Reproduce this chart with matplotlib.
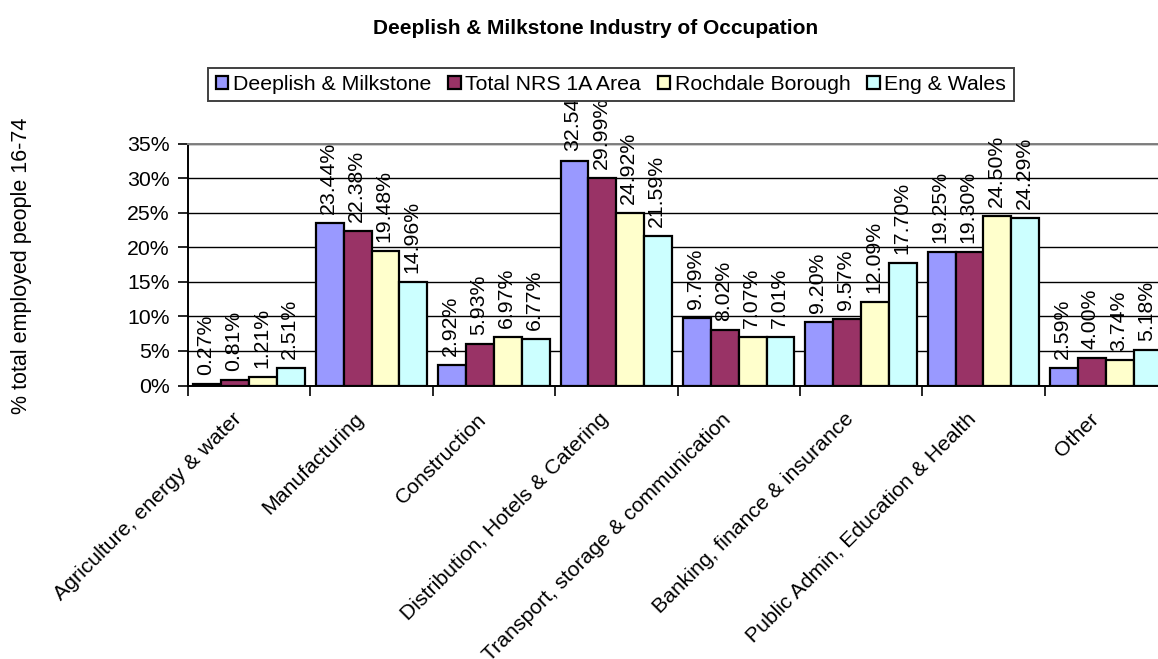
import matplotlib
matplotlib.use("Agg")
import matplotlib.pyplot as plt
import matplotlib.transforms as mtransforms
import numpy as np

plt.rcParams['font.family'] = ['Liberation Sans', 'DejaVu Sans']

# data
categories = ["Agriculture, energy & water", "Manufacturing", "Construction",
              "Distribution, Hotels & Catering", "Transport, storage & communication",
              "Banking, finance & insurance", "Public Admin, Education & Health", "Other"]
series_names = ["Deeplish & Milkstone", "Total NRS 1A Area", "Rochdale Borough", "Eng & Wales"]
deeplish = [0.27, 23.44, 2.92, 32.54, 9.79, 9.20, 19.25, 2.59]
nrs_area = [0.81, 22.38, 5.93, 29.99, 8.02, 9.57, 19.30, 4.00]
rochdale = [1.21, 19.48, 6.97, 24.92, 7.07, 12.09, 24.50, 3.74]
eng_wales = [2.51, 14.96, 6.77, 21.59, 7.01, 17.70, 24.29, 5.18]
y_ticks = [0, 5, 10, 15, 20, 25, 30, 35]

colors = ['#9999FF', '#993366', '#FFFFCC', '#CCFFFF']
all_series = [deeplish, nrs_area, rochdale, eng_wales]
fs = 15.3

W, H = 1158, 659
fig = plt.figure(figsize=(W / 100, H / 100), dpi=100)
# plot area runs past the right edge, like the original
ax = fig.add_axes([188 / W, 1 - 385.5 / H, 979 / W, 242 / H])

x = np.arange(len(categories)) + 0.5
bw = 0.228
handles = []
for k, (vals, col) in enumerate(zip(all_series, colors)):
    pos = x + (k - 1.5) * bw
    b = ax.bar(pos, vals, width=bw, color=col, edgecolor='black', linewidth=1.6, zorder=3)
    handles.append(b)
    for px, v in zip(pos, vals):
        ax.annotate(f"{v:.2f}%", (px, v), xytext=(-1, 6.5), textcoords='offset points',
                    rotation=90, ha='center', va='bottom', fontsize=fs,
                    clip_on=False, zorder=4)

ax.set_xlim(0, len(categories))
ax.set_ylim(0, 35)
ax.set_yticks(y_ticks)
ax.set_yticklabels([f"{t}%" for t in y_ticks], fontsize=fs)
ax.yaxis.grid(True, color='black', linewidth=1.0, zorder=0)
ax.set_axisbelow(True)

# ticks at category boundaries, names drawn below each category centre
ax.set_xticks(np.arange(len(categories) + 1))
ax.set_xticklabels([])
ax.tick_params(axis='x', which='major', length=7, width=1.2, direction='out')
ax.tick_params(axis='y', length=7, width=1.2, direction='out', pad=6)
lab_tr = ax.get_xaxis_transform() + mtransforms.ScaledTranslation(-17 / 100, -24 / 100, fig.dpi_scale_trans)
for xc, name in zip(x, categories):
    ax.text(xc, 0, name, transform=lab_tr, rotation=45, ha='right', va='top',
            rotation_mode='anchor', fontsize=fs, clip_on=False)

ax.spines['left'].set_linewidth(1.4)
ax.spines['bottom'].set_linewidth(1.4)
ax.spines['top'].set_color('#808080')
ax.spines['top'].set_linewidth(1.4)
ax.spines['right'].set_visible(False)

fig.text(596 / W, 1 - 28 / H, "Deeplish & Milkstone Industry of Occupation",
         ha='center', va='center', fontsize=15, fontweight='bold')
fig.text(22 / W, 1 - 266 / H, "% total employed people 16-74", rotation=90,
         ha='center', va='center', fontsize=15.5)

leg = fig.legend(handles, series_names, loc='center', bbox_to_anchor=(611 / W, 1 - 84.5 / H),
                 ncol=4, fontsize=fs, frameon=True, fancybox=False, edgecolor='#404040',
                 framealpha=1, facecolor='white',
                 handlelength=0.6, handleheight=0.6, handletextpad=0.2, columnspacing=0.8,
                 borderpad=0.35, borderaxespad=0)
leg.get_frame().set_linewidth(1.4)
leg.set_zorder(10)

fig.savefig("out.png", dpi=100)
